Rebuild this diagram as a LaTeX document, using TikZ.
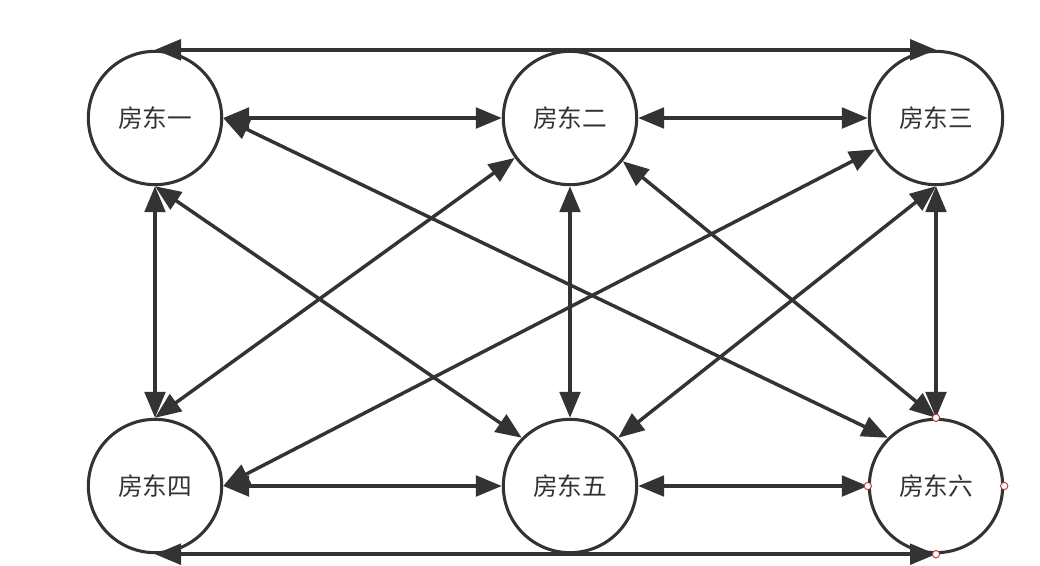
\documentclass[tikz,border=0pt]{standalone}
\usepackage{fontspec}
\newfontfamily\cjk{Noto Sans CJK SC}
\usetikzlibrary{arrows.meta}
\definecolor{ink}{HTML}{333333}
\definecolor{handle}{HTML}{B03A3A}
\tikzset{
  owner/.style={circle, draw=ink, line width=2.3pt, fill=white, minimum size=100pt, inner sep=0pt, text=ink, font=\cjk\fontsize{18.5}{20}\selectfont},
  link/.style={draw=ink, line width=2.6pt, {Triangle[length=19.5pt,width=15.5pt]}-{Triangle[length=19.5pt,width=15.5pt]}},
  grip/.style={circle, draw=handle, fill=white, line width=0.7pt, minimum size=5.5pt, inner sep=0pt}
}
\begin{document}
\begin{tikzpicture}[x=0.75pt,y=-0.75pt]
\useasboundingbox (0,0) rectangle (1040,565);
\node[owner] (c1) at (155,118) {房东一};
\node[owner] (c2) at (570,118) {房东二};
\node[owner] (c3) at (936,118) {房东三};
\node[owner] (c4) at (155,486) {房东四};
\node[owner] (c5) at (570,486) {房东五};
\node[owner] (c6) at (936,486) {房东六};
% outer loops
\draw[link] (c1.north) -- (c3.north);
\draw[link] (c4.south) -- (c6.south);
% horizontals
\draw[link] (c1.east) -- (c2.west);
\draw[link] (c2.east) -- (c3.west);
\draw[link] (c4.east) -- (c5.west);
\draw[link] (c5.east) -- (c6.west);
% verticals
\draw[link] (c1.south) -- (c4.north);
\draw[link] (c2.south) -- (c5.north);
\draw[link] (c3.south) -- (c6.north);
% diagonals
\draw[link] (c1.south) -- (c5.north west);
\draw[link] (c1.east) -- (c6.north west);
\draw[link] (c2) -- (c4.north);
\draw[link] (c3) -- (c4.east);
\draw[link] (c3.south) -- (c5.north east);
\draw[link] (c2) -- (c6.north);
% selection handles on c6
\node[grip] (h1) at (c6.north) {};
\node[grip] (h2) at (c6.west) {};
\node[grip] (h3) at (c6.east) {};
\node[grip] (h4) at (c6.south) {};
\end{tikzpicture}
\end{document}
